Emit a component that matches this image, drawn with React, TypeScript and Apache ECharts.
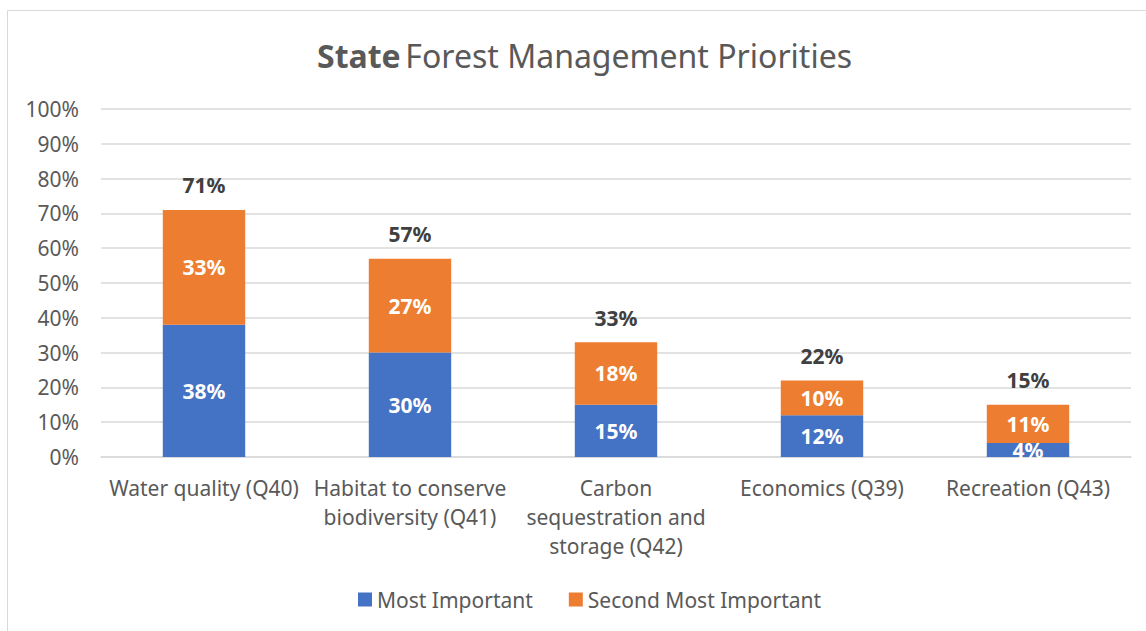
import React, { useEffect, useRef } from "react";
import * as echarts from "echarts";

const categories = [
  "Water quality (Q40)",
  "Habitat to conserve\nbiodiversity (Q41)",
  "Carbon\nsequestration and\nstorage (Q42)",
  "Economics (Q39)",
  "Recreation (Q43)",
];
const mostImportant = [38, 30, 15, 12, 4];
const secondMostImportant = [33, 27, 18, 10, 11];
const totals = [71, 57, 33, 22, 15];
const yTicks = [0, 10, 20, 30, 40, 50, 60, 70, 80, 90, 100];

const FONT = "'Noto Sans', 'Open Sans', sans-serif";
const FS = 21;

export default function App() {
  const ref = useRef<HTMLDivElement>(null);
  useEffect(() => {
    if (!ref.current) return;
    const chart = echarts.init(ref.current, undefined, { renderer: "svg" });
    chart.setOption({
      animation: false,
      textStyle: { fontFamily: FONT },
      title: {
        text: "{b|State} {r|Forest Management Priorities}",
        left: 312,
        top: 34,
        textStyle: {
          fontWeight: "normal",
          rich: {
            b: { fontSize: 32, fontWeight: "bold", color: "#595959", fontFamily: FONT },
            r: { fontSize: 32, fontWeight: "normal", color: "#595959", fontFamily: FONT },
          },
        },
      },
      graphic: [
        {
          type: "rect",
          shape: { x: 7.5, y: 10.5, width: 1150, height: 640 },
          style: { fill: "none", stroke: "#d9d9d9", lineWidth: 1 },
          silent: true,
        },
      ],
      legend: {
        data: ["Most Important", "Second Most Important"],
        bottom: 16,
        left: 353,
        icon: "rect",
        itemWidth: 14,
        itemHeight: 14,
        itemGap: 36,
        textStyle: { fontSize: FS, color: "#595959", fontFamily: FONT },
      },
      grid: { left: 101, right: 15, top: 109, bottom: 174 },
      xAxis: {
        type: "category",
        data: categories,
        axisTick: { show: false },
        axisLine: { lineStyle: { color: "#d9d9d9", width: 1.5 } },
        axisLabel: {
          fontSize: FS,
          color: "#595959",
          lineHeight: 29,
          margin: 16,
          interval: 0,
          fontFamily: FONT,
        },
      },
      yAxis: {
        type: "value",
        min: yTicks[0],
        max: yTicks[yTicks.length - 1],
        interval: 10,
        axisLabel: {
          formatter: "{value}%",
          fontSize: FS,
          color: "#595959",
          margin: 22,
          fontFamily: FONT,
        },
        splitLine: { lineStyle: { color: "#d9d9d9", width: 1.5 } },
      },
      series: [
        {
          name: "Most Important",
          type: "bar",
          stack: "total",
          barWidth: "40%",
          data: mostImportant,
          itemStyle: { color: "#4472C4" },
          label: {
            show: true,
            position: "inside",
            formatter: "{c}%",
            color: "#ffffff",
            fontWeight: "bold",
            fontSize: FS,
            fontFamily: FONT,
          },
        },
        {
          name: "Second Most Important",
          type: "bar",
          stack: "total",
          data: secondMostImportant,
          itemStyle: { color: "#ED7D31" },
          label: {
            show: true,
            position: "inside",
            formatter: "{c}%",
            color: "#ffffff",
            fontWeight: "bold",
            fontSize: FS,
            fontFamily: FONT,
          },
        },
        {
          name: "Total",
          type: "bar",
          stack: "total",
          data: totals.map(() => 0),
          itemStyle: { color: "transparent" },
          label: {
            show: true,
            position: "top",
            distance: 14,
            formatter: (p: any) => totals[p.dataIndex] + "%",
            color: "#404040",
            fontWeight: "bold",
            fontSize: FS,
            fontFamily: FONT,
          },
        },
      ],
    });
    return () => chart.dispose();
  }, []);
  return (
    <div
      ref={ref}
      style={{ position: "absolute", left: 0, top: 0, width: 1146, height: 631, background: "#fff" }}
    />
  );
}
